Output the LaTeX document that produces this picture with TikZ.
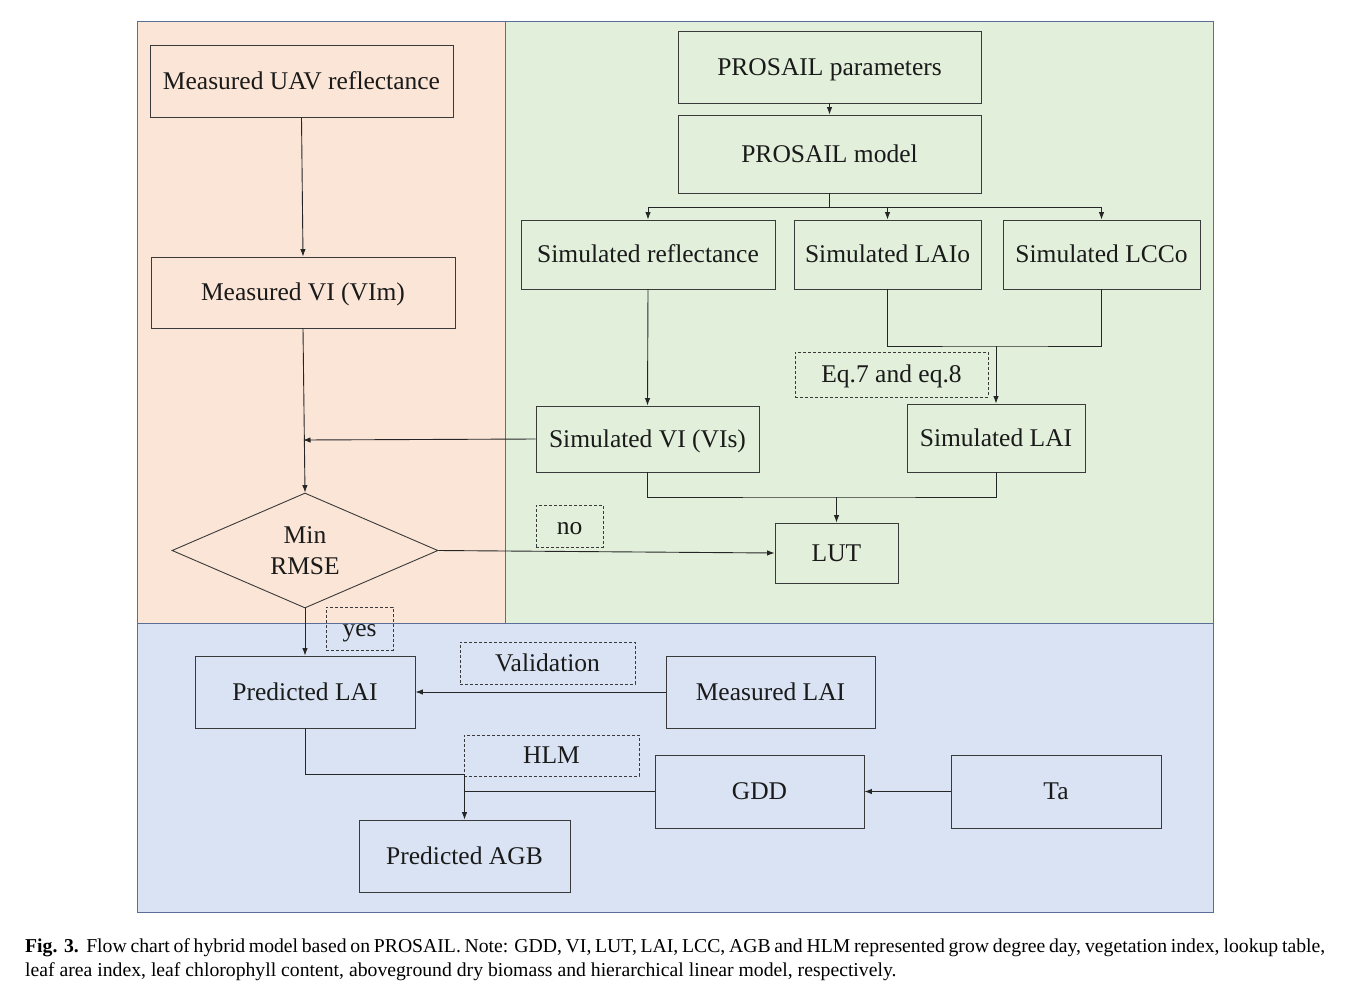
\documentclass[tikz,border=0pt]{standalone}
\usepackage{fontspec}
\setmainfont{Liberation Serif}
\usetikzlibrary{shapes.geometric,arrows.meta,calc}
\definecolor{peach}{HTML}{FBE5D6}
\definecolor{mint}{HTML}{E2EFDA}
\definecolor{lblue}{HTML}{DAE3F3}
\definecolor{panelline}{HTML}{5A6E98}
\definecolor{boxline}{HTML}{3A3A3A}
\definecolor{txt}{HTML}{1A1A1A}
\begin{document}
\begin{tikzpicture}[x=1pt,y=-1pt,
  box/.style={draw=boxline,line width=0.9pt,inner sep=0pt,text=txt,text height=16pt,text depth=0pt,font=\fontsize{25.5}{31}\selectfont},
  lbl/.style={draw=boxline,dashed,dash pattern=on 3pt off 2pt,line width=0.7pt,inner sep=0pt,text=txt,text height=16pt,text depth=0pt,font=\fontsize{25.5}{31}\selectfont},
  diam/.style={draw=boxline,line width=0.9pt,inner sep=0pt,text=txt,shape=diamond,align=center,font=\fontsize{25.5}{31}\selectfont},
  conn/.style={draw=black!85,line width=0.9pt},
  arr/.style={conn,-{Latex[length=7.5pt,width=5.5pt]}},
  captxt/.style={anchor=base west,inner sep=0pt,text=black,font=\fontsize{19.7}{22}\selectfont}]
\useasboundingbox[fill=white] (0,0) rectangle (1347,1002);
% panels
\fill[peach] (137,21) rectangle (505,623);
\fill[mint] (505,21) rectangle (1213,623);
\fill[lblue] (137,623) rectangle (1213,912);
\draw[panelline,line width=0.9pt] (137,21) rectangle (505,623);
\draw[panelline,line width=0.9pt] (505,21) rectangle (1213,623);
\draw[panelline,line width=0.9pt] (137,623) rectangle (1213,912);
% boxes
\node[box,minimum width=303pt,minimum height=72pt] (uav) at (301.5,81) {Measured UAV reflectance};
\node[box,minimum width=304pt,minimum height=71pt] (vim) at (303,292.5) {Measured VI (VIm)};
\node[box,minimum width=303pt,minimum height=72pt] (par) at (829.5,67) {PROSAIL parameters};
\node[box,minimum width=303pt,minimum height=78pt] (model) at (829.5,154) {PROSAIL model};
\node[box,minimum width=254pt,minimum height=69pt] (refl) at (648,254.5) {Simulated reflectance};
\node[box,minimum width=187pt,minimum height=69pt] (laio) at (887.5,254.5) {Simulated LAIo};
\node[box,minimum width=197pt,minimum height=69pt] (lcc) at (1101.5,254.5) {Simulated LCCo};
\node[lbl,minimum width=193pt,minimum height=45pt] (eq) at (891.5,374.5) {Eq.7 and eq.8};
\node[box,minimum width=223pt,minimum height=66pt] (vis) at (647.5,439) {Simulated VI (VIs)};
\node[box,minimum width=178pt,minimum height=68pt] (slai) at (996,438) {Simulated LAI};
\node[diam,aspect=2.31,minimum width=266pt,minimum height=115pt] (mr) at (305,550.5) {\rule{0pt}{18pt}Min\\RMSE};
\node[lbl,minimum width=67pt,minimum height=42pt] (no) at (569.5,526) {no};
\node[box,minimum width=123pt,minimum height=60pt] (lut) at (836.5,553) {LUT};
\node[lbl,minimum width=67pt,minimum height=43pt] (yes) at (359.5,628.5) {yes};
\node[box,minimum width=220pt,minimum height=72pt] (plai) at (305,692) {Predicted LAI};
\node[lbl,minimum width=175pt,minimum height=42pt] (val) at (547.5,663) {Validation};
\node[box,minimum width=209pt,minimum height=72pt] (mlai) at (770.5,692) {Measured LAI};
\node[lbl,minimum width=175pt,minimum height=41pt] (hlm) at (551.5,755.5) {HLM};
\node[box,minimum width=209pt,minimum height=73pt] (gdd) at (759.5,791.5) {GDD};
\node[box,minimum width=210pt,minimum height=73pt] (ta) at (1056,791.5) {Ta};
\node[box,minimum width=211pt,minimum height=72pt] (agb) at (464.5,856) {Predicted AGB};
% coordinates
\coordinate (br) at (829.5,207);
\coordinate (j1) at (303,440);
\coordinate (m2) at (996,346);
\coordinate (m3) at (836.5,497);
\coordinate (m4) at (464.5,774);
% connectors
\draw[arr] (uav.south) -- (vim.north);
\draw[arr] (par.south) -- (model.north);
\draw[conn] (model.south) -- (br);
\draw[conn] (refl.north |- br) -- (lcc.north |- br);
\draw[arr] (refl.north |- br) -- (refl.north);
\draw[arr] (laio.north |- br) -- (laio.north);
\draw[arr] (lcc.north |- br) -- (lcc.north);
\draw[conn] (laio.south) |- (m2) -| (lcc.south);
\draw[arr] (m2) -- (slai.north);
\draw[arr] (refl.south) -- (vis.north);
\draw[arr] (vim.south) -- (mr.north);
\draw[arr] (vis.west) -- (j1);
\draw[conn] (vis.south) |- (m3) -| (slai.south);
\draw[arr] (m3) -- (lut.north);
\draw[arr] (mr.east) -- (lut.west);
\draw[arr] (mr.south) -- (plai.north);
\draw[arr] (mlai.west) -- (plai.east);
\draw[conn] (plai.south) |- (m4);
\draw[arr] (m4) -- (agb.north);
\draw[conn] (gdd.west) -- (gdd.west -| agb.north);
\draw[arr] (ta.west) -- (gdd.east);
% caption
\node[captxt] (cap1) at (25,952) {\makebox[1300pt][s]{\mbox{\textbf{Fig. 3.}}\ \ Flow chart of hybrid model based on PROSAIL. Note: GDD, VI, LUT, LAI, LCC, AGB and HLM represented grow degree day, vegetation index, lookup table,}};
\node[captxt] (cap2) at (25,976) {leaf area index, leaf chlorophyll content, aboveground dry biomass and hierarchical linear model, respectively.};
\end{tikzpicture}
\end{document}
